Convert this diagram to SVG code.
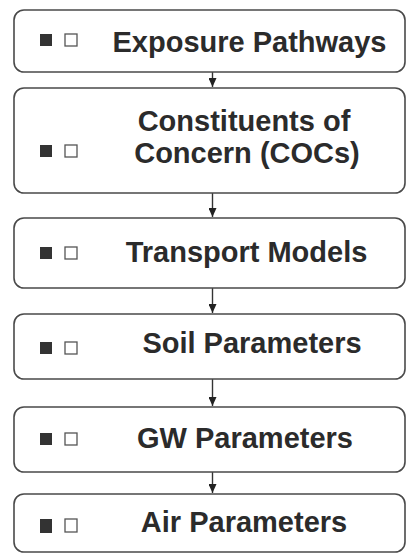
<svg xmlns="http://www.w3.org/2000/svg" width="408" height="554" viewBox="0 0 408 554">
<style>
.box{fill:#fff;stroke:#4a4a4a;stroke-width:1.6}
.lbl{font-family:"Liberation Sans",Arial,Helvetica,sans-serif;font-weight:bold;font-size:29px;fill:#2b2b2b;text-anchor:middle}
.fill{fill:#333}
.hol{fill:#fff;stroke:#555;stroke-width:1.3}
.conn{stroke:#333;stroke-width:1.4;fill:none}
</style>
<defs>
<marker id="ah" viewBox="0 0 9 8" refX="9" refY="4" markerWidth="9" markerHeight="8" markerUnits="userSpaceOnUse" orient="auto">
<path d="M0,0 L9,4 L0,8 Z" fill="#222"/>
</marker>
</defs>
<rect width="408" height="554" fill="#fff"/>
<g id="connectors">
<line class="conn" x1="212.5" y1="72" x2="212.5" y2="87" marker-end="url(#ah)"/>
<line class="conn" x1="212.5" y1="193" x2="212.5" y2="217" marker-end="url(#ah)"/>
<line class="conn" x1="212.5" y1="288" x2="212.5" y2="313" marker-end="url(#ah)"/>
<line class="conn" x1="212.5" y1="379" x2="212.5" y2="406" marker-end="url(#ah)"/>
<line class="conn" x1="212.5" y1="472" x2="212.5" y2="493" marker-end="url(#ah)"/>
</g>
<g id="n1">
<rect class="box" x="14" y="10" width="391" height="62" rx="10"/>
<rect class="fill" x="40" y="34" width="12" height="12"/>
<rect class="hol" x="65" y="34" width="12" height="12"/>
<text class="lbl" x="249.5" y="51.5">Exposure Pathways</text>
</g>
<g id="n2">
<rect class="box" x="14" y="88" width="391" height="105" rx="10"/>
<rect class="fill" x="40" y="145" width="12" height="12"/>
<rect class="hol" x="65" y="145" width="12" height="12"/>
<text class="lbl" x="244" y="130.5">Constituents of</text>
<text class="lbl" x="247" y="162.5">Concern (COCs)</text>
</g>
<g id="n3">
<rect class="box" x="14" y="218" width="391" height="70" rx="10"/>
<rect class="fill" x="40" y="247" width="12" height="12"/>
<rect class="hol" x="65" y="247" width="12" height="12"/>
<text class="lbl" x="246.5" y="261.5">Transport Models</text>
</g>
<g id="n4">
<rect class="box" x="14" y="314" width="391" height="65" rx="10"/>
<rect class="fill" x="40" y="342" width="12" height="12"/>
<rect class="hol" x="65" y="342" width="12" height="12"/>
<text class="lbl" x="252" y="353">Soil Parameters</text>
</g>
<g id="n5">
<rect class="box" x="14" y="407" width="391" height="65" rx="10"/>
<rect class="fill" x="40" y="433" width="12" height="12"/>
<rect class="hol" x="65" y="433" width="12" height="12"/>
<text class="lbl" x="245" y="447.5">GW Parameters</text>
</g>
<g id="n6">
<rect class="box" x="14" y="494" width="391" height="58" rx="10"/>
<rect class="fill" x="40" y="519" width="12" height="14"/>
<rect class="hol" x="65" y="519" width="12" height="13"/>
<text class="lbl" x="244" y="532">Air Parameters</text>
</g>
</svg>
